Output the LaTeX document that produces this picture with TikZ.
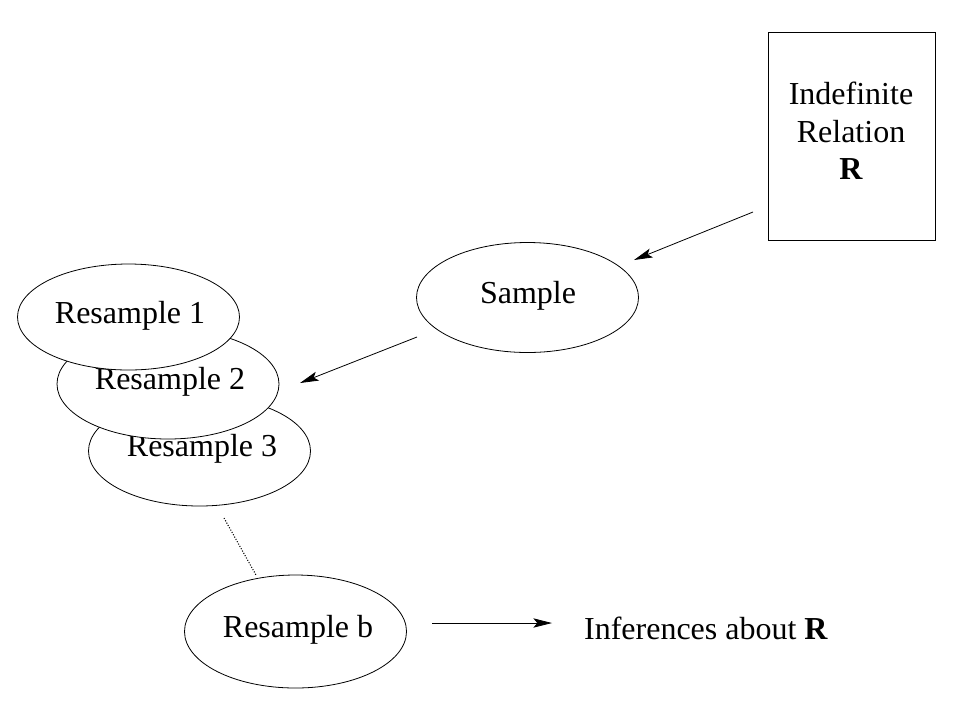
\documentclass[tikz,border=0pt]{standalone}
\usepackage{fontspec}
\setmainfont{Liberation Serif}
\usetikzlibrary{shapes.geometric,arrows.meta}
\begin{document}
\begin{tikzpicture}[x=0.75pt,y=-0.75pt,
  every node/.style={font=\fontsize{24}{29}\selectfont},
  oval/.style={ellipse,draw,fill=white,line width=0.6pt,minimum width=222*0.75pt,minimum height=110*0.75pt,inner sep=0pt},
  arr/.style={line width=0.6pt,-{Stealth[length=14pt,width=7pt,inset=3pt]}},
  dotline/.style={line width=0.8pt,dash pattern=on 0.8pt off 1.2pt}]
\path[use as bounding box,fill=white] (0,0) rectangle (959,719);
% rectangle
\node[draw,line width=0.6pt,minimum width=167*0.75pt,minimum height=208*0.75pt,inner sep=0pt] (rel) at (851.5,136) {};
\node[align=center,inner sep=0pt] (reltext) at (851,131) {Indefinite\\[-1pt]Relation\\[-1pt]\textbf{R}};
% ellipses
\node[oval] (sample) at (527.5,297.5) {};
\node[inner sep=0pt] (sampletxt) at (528,296) {Sample};
\node[oval] (r3) at (199.5,451) {};
\node[inner sep=0pt] (r3txt) at (202,449) {Resample 3};
\node[oval] (r2) at (168,384) {};
\node[inner sep=0pt] (r2txt) at (170,382) {Resample 2};
\node[oval,minimum height=106*0.75pt] (r1) at (128.5,317) {};
\node[inner sep=0pt] (r1txt) at (130,316) {Resample 1};
\node[oval,minimum height=113*0.75pt] (rb) at (295.5,631.5) {};
\node[inner sep=0pt] (rbtxt) at (298,630) {Resample b};
\node[inner sep=0pt] (inf) at (706,628) {Inferences about \textbf{R}};
% connector end points
\coordinate (a1s) at (753,212);
\coordinate (a1e) at (634,260);
\coordinate (a2s) at (417,337);
\coordinate (a2e) at (300,383);
\coordinate (a3s) at (432,623);
\coordinate (a3e) at (552,623);
\coordinate (ds) at (224,518);
\coordinate (de) at (256,575);
\draw[arr] (a1s) -- (a1e);
\draw[arr] (a2s) -- (a2e);
\draw[arr] (a3s) -- (a3e);
\draw[dotline] (ds) -- (de);
\end{tikzpicture}
\end{document}
